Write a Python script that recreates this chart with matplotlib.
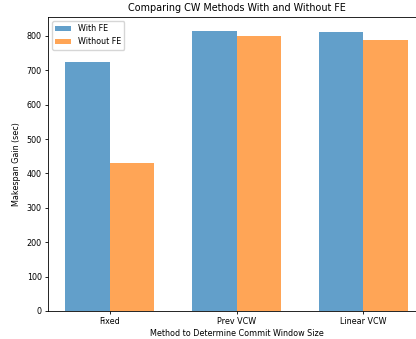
import matplotlib
matplotlib.use("Agg")
import matplotlib.pyplot as plt
import numpy as np

# data
methods = ["Fixed", "Prev VCW", "Linear VCW"]
with_fe = [725, 814, 811]
without_fe = [430, 800, 788]

bar_width = 0.35
x = np.arange(len(methods))

fig = plt.figure(figsize=(4.16, 3.39), dpi=100)
# axes runs past the right edge, as in the cropped reference
ax = fig.add_axes([48 / 416, 28 / 339, 377 / 416, 294 / 339])

ax.bar(x - bar_width / 2, with_fe, bar_width, label="With FE", color="tab:blue", alpha=0.7)
ax.bar(x + bar_width / 2, without_fe, bar_width, label="Without FE", color="tab:orange", alpha=0.7)

ax.set_xticks(x)
ax.set_xticklabels(methods)
ax.set_xlabel("Method to Determine Commit Window Size", fontsize=5.8, labelpad=2)
ax.set_ylabel("Makespan Gain (sec)", fontsize=5.8, labelpad=4)
ax.set_title("Comparing CW Methods With and Without FE", fontsize=6.9, pad=4)
ax.tick_params(labelsize=5.8, length=2.5, width=0.6, pad=2)
for s in ax.spines.values():
    s.set_linewidth(0.6)
ax.legend(loc="upper left", fontsize=5.8, handlelength=2.0)

fig.savefig("out.png", dpi=100)
